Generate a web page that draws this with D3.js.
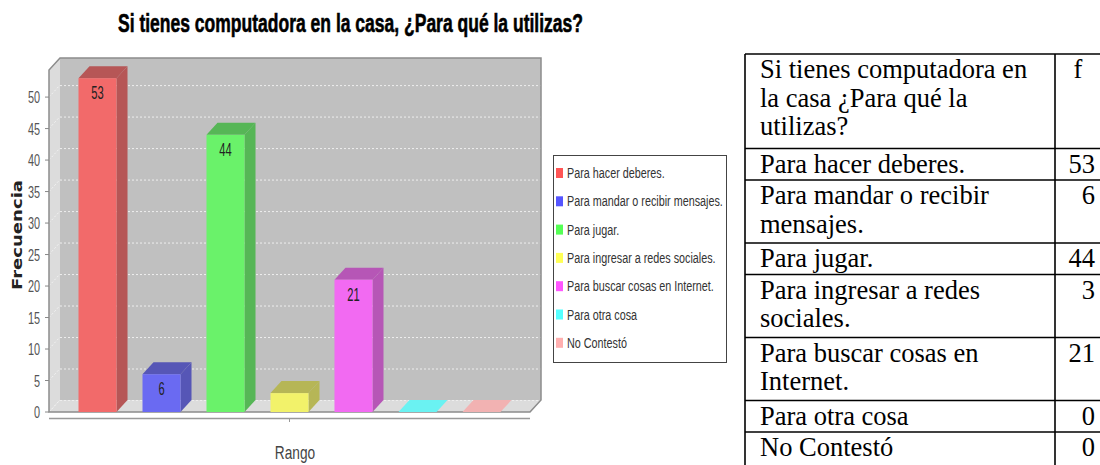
<!DOCTYPE html>
<html><head><meta charset="utf-8">
<script src="https://cdn.jsdelivr.net/npm/d3@7"></script>
<style>body{margin:0;background:#fff;} svg{display:block}</style>
</head><body><svg id="c" width="1100" height="465"></svg>
<script>
// ---------- DATA ----------
const chartTitle = "Si tienes computadora en la casa, ¿Para qué la utilizas?";
const categories = ["Para hacer deberes.", "Para mandar o recibir mensajes.", "Para jugar.",
  "Para ingresar a redes sociales.", "Para buscar cosas en Internet.", "Para otra cosa", "No Contestó"];
const values = [53, 6, 44, 3, 21, 0, 0];
const seriesColors = ["#ff5555", "#5555ff", "#55ff55", "#ffff55", "#ff55ff", "#55ffff", "#ffafaf"];
const yTicks = [0, 5, 10, 15, 20, 25, 30, 35, 40, 45, 50];
const yMax = 54.3;
const yAxisLabel = "Frecuencia";
const xAxisLabel = "Rango";
const tableHeaderLines = ["Si tienes computadora en", "la casa ¿Para qué la", "utilizas?"];
const tableHeaderF = "f";
const tableRowLines = [["Para hacer deberes."], ["Para mandar o recibir", "mensajes."], ["Para jugar."],
  ["Para ingresar a redes", "sociales."], ["Para buscar cosas en", "Internet."], ["Para otra cosa"], ["No Contestó"]];

// ---------- LAYOUT ----------
const svg = d3.select("#c");
const L = 49, R = 530, B = 412, T = 70, DX = 11, DY = 12;
const wallBg = "#c0c0c0", sideBg = "#dcdcdc";
const sansF = "'Liberation Sans', Arial, sans-serif";

function text(g, x, y, s, o) {
  const t = g.append("text")
    .attr("transform", `translate(${x},${y}) scale(${o.sx || 1},1)`)
    .attr("text-anchor", o.anchor || "start")
    .attr("font-family", o.family || sansF)
    .attr("font-size", o.size)
    .attr("font-weight", o.weight || "normal")
    .attr("fill", o.fill || "#000")
    .text(s);
  return t;
}
function blend(c, a, bg) {
  const x = d3.rgb(c), b = d3.rgb(bg);
  return d3.rgb(x.r * a + b.r * (1 - a), x.g * a + b.g * (1 - a), x.b * a + b.b * (1 - a)).formatHex();
}
function darker(c) { const x = d3.rgb(c); return d3.rgb(x.r * 0.7, x.g * 0.7, x.b * 0.7).formatHex(); }

const x = d3.scaleBand().domain(categories).range([L, R]).paddingInner(0.406).paddingOuter(0.461);
const y = d3.scaleLinear().domain([0, yMax]).range([B, T]);

// title
text(svg, 118, 32, chartTitle, { size: 26, weight: "bold" }).attr("textLength", 465).attr("lengthAdjust", "spacingAndGlyphs")
  .attr("stroke", "#000").attr("stroke-width", 0.6);

// walls
const g = svg.append("g");
g.append("rect").attr("x", L + DX).attr("y", T - DY).attr("width", R - L).attr("height", B - T).attr("fill", wallBg);
g.append("polygon").attr("points", [[L, B], [L, T], [L + DX, T - DY], [L + DX, B - DY]].join(" ")).attr("fill", sideBg);
g.append("polygon").attr("points", [[L, B], [R, B], [R + DX, B - DY], [L + DX, B - DY]].join(" ")).attr("fill", sideBg);

// gridlines
yTicks.forEach(v => {
  const yy = y(v) - DY;
  g.append("line").attr("x1", L + DX).attr("x2", R + DX).attr("y1", yy + 0.5).attr("y2", yy + 0.5)
    .attr("stroke", "#eeeeee").attr("stroke-dasharray", "2,2");
  g.append("line").attr("x1", L).attr("x2", L + DX).attr("y1", y(v)).attr("y2", yy)
    .attr("stroke", "#f2f2f2").attr("stroke-dasharray", "2,2");
});

// outline
const oc = "#8c8c8c";
g.append("path").attr("d", `M${L},${B}L${L},${T}L${L + DX},${T - DY}L${R + DX},${T - DY}L${R + DX},${B - DY}L${R},${B}Z`)
  .attr("fill", "none").attr("stroke", oc).attr("stroke-width", 1.5);

// bars
const bars = svg.append("g");
categories.forEach((c, i) => {
  const v = values[i], x0 = x(c), w = x.bandwidth(), top = y(v);
  const front = blend(seriesColors[i], 0.8, wallBg);
  const dark = blend(darker(seriesColors[i]), 0.8, wallBg);
  const bg = bars.append("g");
  if (v > 0) {
    bg.append("polygon").attr("points", [[x0 + w, top], [x0 + w + DX, top - DY], [x0 + w + DX, B - DY], [x0 + w, B]].join(" ")).attr("fill", dark);
    bg.append("polygon").attr("points", [[x0, top], [x0 + DX, top - DY], [x0 + w + DX, top - DY], [x0 + w, top]].join(" ")).attr("fill", dark);
    bg.append("rect").attr("x", x0).attr("y", top).attr("width", w).attr("height", B - top).attr("fill", front);
    if (B - top > 25) text(bg, x0 + w / 2, top + 21, String(v), { size: 18, sx: 0.62, anchor: "middle", fill: "#222" });
  } else {
    bg.append("polygon").attr("points", [[x0, B], [x0 + DX, B - DY], [x0 + w + DX, B - DY], [x0 + w, B]].join(" ")).attr("fill", front);
  }
});

// y axis ticks and labels
const ax = svg.append("g");
yTicks.forEach(v => {
  ax.append("line").attr("x1", L - 4).attr("x2", L).attr("y1", y(v)).attr("y2", y(v)).attr("stroke", "#888");
  text(ax, 40, y(v) + 6, String(v), { size: 17, sx: 0.64, anchor: "end", fill: "#555" });
});
text(ax, 0, 0, yAxisLabel, { size: 14, weight: "bold", family: "'DejaVu Sans', Verdana, sans-serif", anchor: "middle", fill: "#222" })
  .attr("transform", "translate(22,235) rotate(-90)").attr("textLength", 110).attr("lengthAdjust", "spacingAndGlyphs");

// category axis
ax.append("line").attr("x1", L).attr("x2", R).attr("y1", 418.5).attr("y2", 418.5).attr("stroke", "#999").attr("stroke-width", 1.5);
ax.append("line").attr("x1", (L + R) / 2).attr("x2", (L + R) / 2).attr("y1", 418).attr("y2", 422).attr("stroke", "#999");
text(ax, (L + R + DX) / 2, 459, xAxisLabel, { size: 19, sx: 0.72, anchor: "middle", fill: "#444" });

// legend
const lg = svg.append("g");
lg.append("rect").attr("x", 553.5).attr("y", 155.5).attr("width", 173).attr("height", 207).attr("fill", "#fff").attr("stroke", "#444");
categories.forEach((c, i) => {
  const cy = 173 + i * 28.3;
  lg.append("rect").attr("x", 556).attr("y", cy - 5).attr("width", 7).attr("height", 10).attr("fill", seriesColors[i]);
  text(lg, 567, cy + 5, c, { size: 15, sx: 0.72, fill: "#333" });
});

// table
const tb = svg.append("g");
const tL = 745, tR = 1100, tDiv = 1055, tTop = 54, lineH = 31.5, serif = "'Liberation Serif', 'Times New Roman', serif";
const rows = [{ lines: tableHeaderLines, val: tableHeaderF, header: true }]
  .concat(tableRowLines.map((l, i) => ({ lines: l, val: String(values[i]) })));
let cur = tTop;
const hLines = [cur];
rows.forEach(r => {
  r.top = cur;
  cur += r.lines.length * lineH;
  hLines.push(cur);
});
hLines.slice(0, -1).forEach(yy => tb.append("line").attr("x1", tL).attr("x2", tR).attr("y1", yy).attr("y2", yy).attr("stroke", "#000").attr("stroke-width", 1.6));
[tL, tDiv].forEach(xx => tb.append("line").attr("x1", xx).attr("x2", xx).attr("y1", tTop).attr("y2", 465).attr("stroke", "#000").attr("stroke-width", 1.6));
rows.forEach(r => {
  r.lines.forEach((ln, k) => text(tb, 760, r.top + 24 + k * 28.5, ln, { size: 26.5, family: serif }));
  if (r.header) text(tb, 1078, r.top + 24, r.val, { size: 26.5, family: serif, anchor: "middle" });
  else text(tb, 1095, r.top + 24, r.val, { size: 26.5, family: serif, anchor: "end" });
});
</script></body></html>
